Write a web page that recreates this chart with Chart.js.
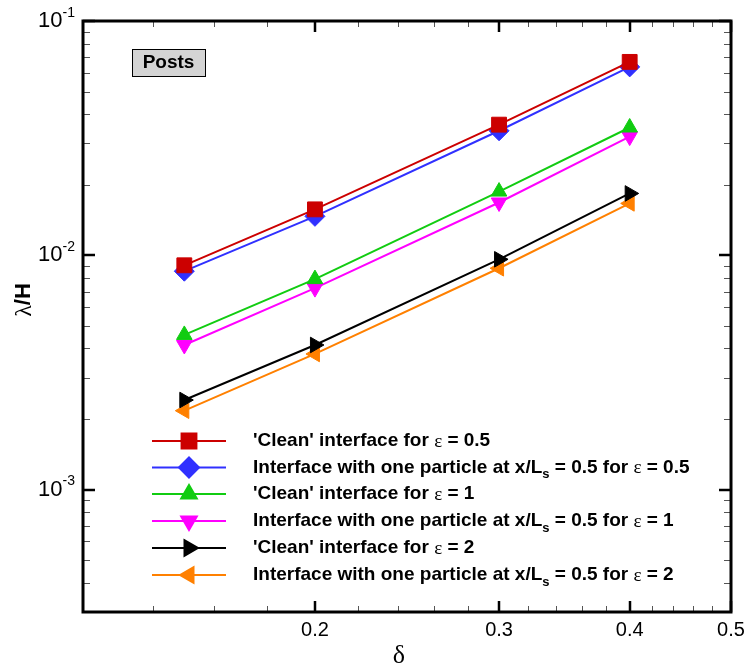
<!DOCTYPE html>
<html>
<head>
<meta charset="utf-8">
<script src="https://cdn.jsdelivr.net/npm/chart.js@4.4.1/dist/chart.umd.min.js"></script>
<style>
  html, body { margin: 0; padding: 0; background: #fff; }
</style>
</head>
<body>
<canvas id="chart" width="749" height="669"></canvas>
<script>
// delta values (x) and lambda/H for each case
const deltas = [0.15, 0.2, 0.3, 0.4];
const cleanEps05 = [0.00906, 0.0157, 0.0361, 0.0669];
const particleEps05 = [0.00855, 0.01466, 0.0340, 0.0637];
const cleanEps1 = [0.00457, 0.00791, 0.0187, 0.0351];
const particleEps1 = [0.00414, 0.00724, 0.0168, 0.0321];
const cleanEps2 = [0.00241, 0.00414, 0.00961, 0.01836];
const particleEps2 = [0.00217, 0.00379, 0.00880, 0.01665];

const seriesNames = [
  "'Clean' interface for ε = 0.5",
  "Interface with one particle at x/L_s = 0.5 for ε = 0.5",
  "'Clean' interface for ε = 1",
  "Interface with one particle at x/L_s = 0.5 for ε = 1",
  "'Clean' interface for ε = 2",
  "Interface with one particle at x/L_s = 0.5 for ε = 2"
];

// axis ticks
const xMajorTicks = [0.2, 0.3, 0.4, 0.5];
const xMinorTicks = [0.14, 0.16, 0.18, 0.22, 0.24, 0.26, 0.28, 0.32, 0.34, 0.36, 0.38, 0.42, 0.44, 0.46, 0.48];
const yMajorTicks = [1e-1, 1e-2, 1e-3];
const yMajorExp = ['-1', '-2', '-3'];
const yMinorTicks = [
  9e-2, 8e-2, 7e-2, 6e-2, 5e-2, 4e-2, 3e-2, 2e-2,
  9e-3, 8e-3, 7e-3, 6e-3, 5e-3, 4e-3, 3e-3, 2e-3,
  9e-4, 8e-4, 7e-4, 6e-4, 5e-4, 4e-4, 3e-4
];

const styles = [
  { color: '#cc0000', pointStyle: 'rect', rotation: 0, radius: 10.5 },
  { color: '#3030ff', pointStyle: 'rectRot', rotation: 0, radius: 10 },
  { color: '#11cc11', pointStyle: 'triangle', rotation: 0, radius: 9 },
  { color: '#ff00ff', pointStyle: 'triangle', rotation: 180, radius: 9 },
  { color: '#000000', pointStyle: 'triangle', rotation: 90, radius: 9 },
  { color: '#ff8000', pointStyle: 'triangle', rotation: 270, radius: 9 }
];

const seriesValues = [cleanEps05, particleEps05, cleanEps1, particleEps1, cleanEps2, particleEps2];

const datasets = seriesValues.map((vals, i) => ({
  label: seriesNames[i],
  data: deltas.map((d, j) => ({ x: d, y: vals[j] })),
  showLine: true,
  borderColor: styles[i].color,
  backgroundColor: styles[i].color,
  borderWidth: 2,
  pointStyle: styles[i].pointStyle,
  rotation: styles[i].rotation,
  pointRadius: styles[i].radius,
  pointBorderWidth: 1,
  pointBorderColor: styles[i].color,
  pointBackgroundColor: styles[i].color,
  clip: false
}));

// draws text where 'ε' uses a symbol font and '_s' is a subscript
function drawRich(ctx, str, x, y) {
  const parts = str.split(/(ε|_s)/).filter(p => p.length);
  let cx = x;
  ctx.textAlign = 'left';
  ctx.textBaseline = 'middle';
  parts.forEach(p => {
    let txt = p;
    if (p === 'ε') {
      ctx.font = '19px "Liberation Serif"';
      ctx.fillText(p, cx, y + 1);
    } else if (p === '_s') {
      txt = 's';
      ctx.font = 'bold 13px "Liberation Sans"';
      ctx.fillText(txt, cx, y + 7);
    } else {
      ctx.font = 'bold 19px "Liberation Sans"';
      ctx.fillText(p, cx, y);
    }
    cx += ctx.measureText(txt).width;
  });
}

const framePlugin = {
  id: 'frame',
  afterDraw(chart) {
    const ctx = chart.ctx;
    const a = chart.chartArea;
    const xs = chart.scales.x, ys = chart.scales.y;
    ctx.save();

    // tick marks pointing inward on all four sides
    const tick = (x1, y1, x2, y2, w, c) => {
      ctx.beginPath(); ctx.lineWidth = w; ctx.strokeStyle = c;
      ctx.moveTo(x1, y1); ctx.lineTo(x2, y2); ctx.stroke();
    };
    xMinorTicks.forEach(v => {
      const px = Math.round(xs.getPixelForValue(v)) + 0.5;
      tick(px, a.bottom, px, a.bottom - 6, 1, '#555');
      tick(px, a.top, px, a.top + 6, 1, '#555');
    });
    xMajorTicks.forEach(v => {
      const px = Math.round(xs.getPixelForValue(v));
      tick(px, a.bottom, px, a.bottom - 11, 2.5, '#000');
      tick(px, a.top, px, a.top + 11, 2.5, '#000');
    });
    yMinorTicks.forEach(v => {
      const py = Math.round(ys.getPixelForValue(v)) + 0.5;
      tick(a.left, py, a.left + 7, py, 1, '#555');
      tick(a.right, py, a.right - 7, py, 1, '#555');
    });
    yMajorTicks.forEach(v => {
      const py = Math.round(ys.getPixelForValue(v));
      tick(a.left, py, a.left + 12, py, 2.5, '#000');
      tick(a.right, py, a.right - 12, py, 2.5, '#000');
    });

    // frame
    ctx.lineWidth = 3;
    ctx.strokeStyle = '#000';
    ctx.strokeRect(a.left, a.top, a.right - a.left, a.bottom - a.top);

    // x tick labels
    ctx.fillStyle = '#000';
    ctx.font = '20px "Liberation Sans"';
    ctx.textAlign = 'center';
    ctx.textBaseline = 'middle';
    xMajorTicks.forEach(v => {
      ctx.fillText(String(v), xs.getPixelForValue(v), a.bottom + 18);
    });

    // y tick labels as 10 with superscript exponent
    yMajorTicks.forEach((v, i) => {
      const py = ys.getPixelForValue(v);
      ctx.font = '14px "Liberation Sans"';
      ctx.textAlign = 'right';
      ctx.textBaseline = 'middle';
      const supW = ctx.measureText(yMajorExp[i]).width;
      ctx.fillText(yMajorExp[i], a.left - 8, py - 8);
      ctx.font = '22px "Liberation Sans"';
      ctx.fillText('10', a.left - 8 - supW, py);
    });

    // axis titles
    ctx.font = '26px "Liberation Serif"';
    ctx.textAlign = 'center';
    ctx.fillText('δ', (a.left + a.right) / 2 - 8, a.bottom + 44);

    ctx.save();
    ctx.translate(24, 300);
    ctx.rotate(-Math.PI / 2);
    ctx.textAlign = 'left';
    ctx.font = '24px "Liberation Serif"';
    const lw = ctx.measureText('λ').width;
    ctx.font = 'bold 22px "Liberation Sans"';
    const rw = ctx.measureText('/H').width;
    const sx = -(lw + rw) / 2;
    ctx.font = '24px "Liberation Serif"';
    ctx.fillText('λ', sx, 1);
    ctx.font = 'bold 22px "Liberation Sans"';
    ctx.fillText('/H', sx + lw, 0);
    ctx.restore();

    // "Posts" label box
    ctx.fillStyle = '#d4d4d4';
    ctx.fillRect(132, 49, 73, 27);
    ctx.lineWidth = 1;
    ctx.strokeStyle = '#000';
    ctx.strokeRect(132.5, 49.5, 73, 27);
    ctx.fillStyle = '#000';
    ctx.font = 'bold 19px "Liberation Sans"';
    ctx.textAlign = 'center';
    ctx.fillText('Posts', 168.5, 63);

    // legend: line sample with marker, then label
    const rowY = [441, 467.5, 494, 521, 548, 575];
    datasets.forEach((ds, i) => {
      const y = rowY[i];
      ctx.beginPath();
      ctx.lineWidth = 2;
      ctx.strokeStyle = ds.borderColor;
      ctx.moveTo(152, y); ctx.lineTo(226, y); ctx.stroke();
      ctx.fillStyle = ds.borderColor;
      Chart.helpers.drawPoint(ctx, {
        pointStyle: ds.pointStyle, rotation: ds.rotation,
        radius: ds.pointRadius, borderWidth: 1
      }, 189, y);
      ctx.fillStyle = '#000';
      drawRich(ctx, seriesNames[i], 253, y);
    });

    ctx.restore();
  }
};

new Chart(document.getElementById('chart'), {
  type: 'scatter',
  data: { datasets },
  options: {
    responsive: false,
    devicePixelRatio: 1,
    animation: false,
    layout: { padding: { left: 83, top: 21, right: 18, bottom: 57 } },
    scales: {
      x: { type: 'logarithmic', min: 0.12, max: 0.5, display: false },
      y: { type: 'logarithmic', min: 3e-4, max: 0.1, display: false }
    },
    plugins: {
      legend: { display: false },
      tooltip: { enabled: false }
    }
  },
  plugins: [framePlugin]
});
</script>
</body>
</html>
